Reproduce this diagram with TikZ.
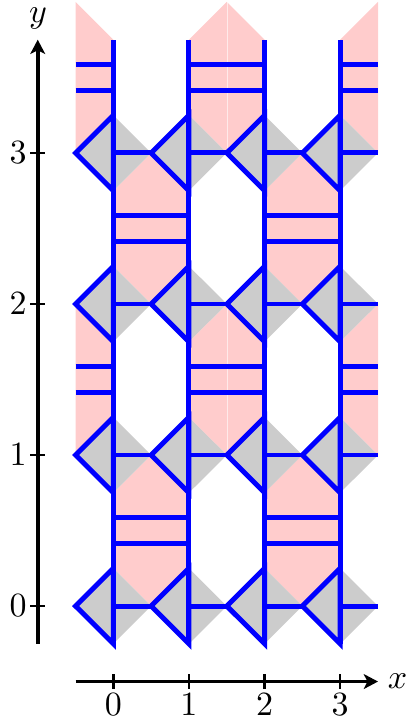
\documentclass[tikz,border=0pt]{standalone}
\usetikzlibrary{arrows.meta}
\definecolor{tilepink}{HTML}{FFCCCC}
\definecolor{tilegray}{HTML}{CCCCCC}
\definecolor{tileblue}{HTML}{0000FF}
\tikzset{
  pinkpatch/.style={fill=tilepink},
  graypatch/.style={fill=tilegray},
  seamline/.style={draw=white,line width=0.12pt,opacity=0.6},
  blueline/.style={draw=tileblue,line width=1.6pt,miter limit=10},
  axisline/.style={draw=black,line width=1.25pt,-{Stealth[length=4.6pt,width=4.8pt,inset=1.2pt]}},
  tickmark/.style={draw=black,line width=0.8pt},
  axislabel/.style={inner sep=0pt,font=\fontsize{11.2}{13}\selectfont},
}
\begin{document}
\begin{tikzpicture}[x=24.39pt,y=48.71pt]
\useasboundingbox (-1.499,-0.748) rectangle (3.872,4.013);
% pink patches
\foreach \r/\c in {0/0,0/2,1/-1,1/1,1/3,2/0,2/2,3/-1,3/1,3/3}{
  \pgfmathsetmacro{\ra}{\r+0.25}\pgfmathsetmacro{\rb}{\r+0.75}\pgfmathsetmacro{\rc}{\r+1}
  \pgfmathsetmacro{\ca}{\c+0.5}\pgfmathsetmacro{\cb}{\c+1}
  \ifnum\c=-1
    \fill[pinkpatch] (\cb,\ra) -- (\ca,\r) -- (\ca,\rc) -- (\cb,\rb) -- cycle;
  \else\ifnum\c=3
    \fill[pinkpatch] (\c,\ra) -- (\ca,\r) -- (\ca,\rc) -- (\c,\rb) -- cycle;
  \else
    \fill[pinkpatch] (\c,\ra) -- (\ca,\r) -- (\cb,\ra) -- (\cb,\rb) -- (\ca,\rc) -- (\c,\rb) -- cycle;
  \fi\fi
}
\foreach \r in {1,3}{
  \pgfmathsetmacro{\rc}{\r+1}
  \draw[seamline] (1.5,\r) -- (1.5,\rc);
}
% gray diamonds
\foreach \k in {0,1,2,3}{\foreach \j in {0,1,2,3}{
  \pgfmathsetmacro{\ja}{\j+0.25}\pgfmathsetmacro{\jb}{\j-0.25}
  \pgfmathsetmacro{\ka}{\k-0.5}\pgfmathsetmacro{\kb}{\k+0.5}
  \fill[graypatch] (\ka,\j) -- (\k,\ja) -- (\kb,\j) -- (\k,\jb) -- cycle;
}}
% blue rungs
\foreach \r/\c in {0/0,0/2,1/-1,1/1,1/3,2/0,2/2,3/-1,3/1,3/3}{
  \pgfmathsetmacro{\ra}{\r+0.4167}\pgfmathsetmacro{\rb}{\r+0.5833}
  \pgfmathsetmacro{\ca}{\c+0.5}\pgfmathsetmacro{\cb}{\c+1}
  \ifnum\c>-1 \def\cl{\c}\else \def\cl{\ca}\fi
  \ifnum\c<3 \def\cr{\cb}\else \def\cr{\ca}\fi
  \draw[blueline] (\cl,\ra) -- (\cr,\ra);
  \draw[blueline] (\cl,\rb) -- (\cr,\rb);
}
% blue chevrons and stubs
\foreach \k in {0,1,2,3}{\foreach \j in {0,1,2,3}{
  \pgfmathsetmacro{\ja}{\j+0.25}\pgfmathsetmacro{\jb}{\j-0.25}
  \pgfmathsetmacro{\ka}{\k-0.5}\pgfmathsetmacro{\kb}{\k+0.5}
  \draw[blueline] (\k,\jb) -- (\ka,\j) -- (\k,\ja) -- cycle;
  \draw[blueline] (\k,\j) -- (\kb,\j);
}
\draw[blueline] (\k,-0.25) -- (\k,3.75);
}
% axes
\coordinate (xstart) at (-0.5,-0.5);
\coordinate (xend) at (3.5,-0.5);
\coordinate (ystart) at (-1,-0.25);
\coordinate (yend) at (-1,3.75);
\draw[axisline] (xstart) -- (xend);
\draw[axisline] (ystart) -- (yend);
\foreach \k in {0,1,2,3}{
  \draw[tickmark] (\k,-0.5) ++(0,2.4pt) -- ++(0,-4.8pt);
  \node[axislabel] (xl\k) at (\k,-0.652) {$\k$};
  \draw[tickmark] (-1,\k) ++(-2.4pt,0) -- ++(4.8pt,0);
  \node[axislabel] (yl\k) at (-1.26,\k) {$\k$};
}
\node[axislabel] (xlab) at (3.76,-0.5) {$x$};
\node[axislabel] (ylab) at (-0.995,3.89) {$y$};
\end{tikzpicture}
\end{document}
